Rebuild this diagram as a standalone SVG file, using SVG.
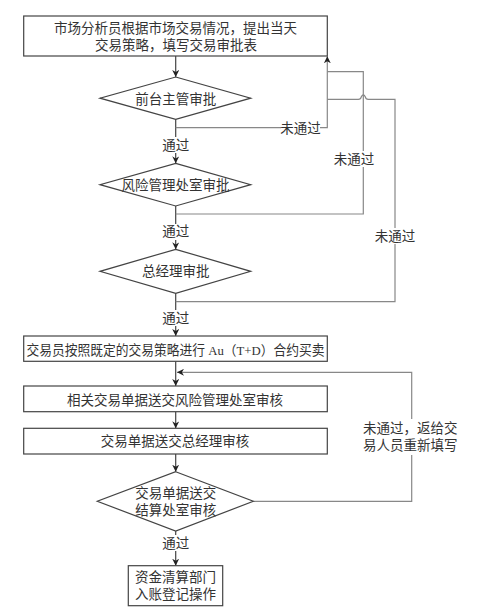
<svg xmlns="http://www.w3.org/2000/svg" width="496" height="611" viewBox="0 0 496 611">
<style>
.box{fill:#fff;stroke:#444;stroke-width:1.2}
.t{font-family:"Liberation Serif","Noto Sans CJK SC",serif;font-size:13.5px;fill:#333;dominant-baseline:central;text-anchor:middle}
.ls{text-anchor:start}
.m{fill:none;stroke:#444;stroke-width:1.2}
.g{fill:none;stroke:#888;stroke-width:1.2}
.bg{fill:#fff;stroke:none}
</style>
<defs>
<marker id="ah" viewBox="0 0 10 10" refX="10" refY="5" markerWidth="7" markerHeight="7" orient="auto" markerUnits="userSpaceOnUse">
<path d="M0,0 L10,5 L0,10 L3,5 z" fill="#222"/>
</marker>
</defs>
<rect width="496" height="611" fill="#fff"/>
<g id="connectors">
<line class="m" x1="175.7" y1="56" x2="175.7" y2="77" marker-end="url(#ah)"/>
<line class="m" x1="175.7" y1="119.3" x2="175.7" y2="163.3" marker-end="url(#ah)"/>
<line class="m" x1="175.7" y1="206" x2="175.7" y2="249.3" marker-end="url(#ah)"/>
<line class="m" x1="175.7" y1="293.3" x2="175.7" y2="336" marker-end="url(#ah)"/>
<line class="m" x1="175.7" y1="361.3" x2="175.7" y2="386" marker-end="url(#ah)"/>
<line class="m" x1="175.7" y1="411.7" x2="175.7" y2="428.3" marker-end="url(#ah)"/>
<line class="m" x1="175.7" y1="454" x2="175.7" y2="471.7" marker-end="url(#ah)"/>
<line class="m" x1="175.7" y1="531" x2="175.7" y2="565.7" marker-end="url(#ah)"/>
<polyline class="g" points="175.7,127.7 327.3,127.7 327.3,56.3" marker-end="url(#ah)"/>
<polyline class="g" points="175.7,214 363.3,214 363.3,71.7 327.3,71.7"/>
<path class="g" d="M175.7,301.7 L395,301.7 L395,99.3 L368.3,99.3 Q365.8,99.3 365.3,96.8 Q363.3,92.8 361.3,96.8 Q360.8,99.3 358.3,99.3 L327.3,99.3"/>
<polyline class="g" points="253.3,501.3 411.7,501.3 411.7,372.3 177,372.3" marker-end="url(#ah)"/>
<rect class="bg" x="281" y="120" width="39" height="16"/>
<text class="t" x="300.5" y="128">未通过</text>
<rect class="bg" x="334" y="151" width="40" height="16"/>
<text class="t" x="354" y="159">未通过</text>
<rect class="bg" x="375" y="228" width="40" height="16"/>
<text class="t" x="395" y="236">未通过</text>
<rect class="bg" x="362" y="419" width="99" height="36"/>
<text class="t ls" x="363" y="428.3">未通过，返给交</text>
<text class="t ls" x="363" y="445.7">易人员重新填写</text>
<rect class="bg" x="161" y="137" width="29" height="16"/>
<text class="t" x="175.7" y="145">通过</text>
<rect class="bg" x="161" y="224" width="29" height="16"/>
<text class="t" x="175.7" y="231.7">通过</text>
<rect class="bg" x="161" y="310" width="29" height="16"/>
<text class="t" x="175.7" y="318.3">通过</text>
<rect class="bg" x="161" y="535" width="29" height="16"/>
<text class="t" x="175.7" y="543.3">通过</text>
</g>
<g id="n1">
<rect class="box" x="23.7" y="16" width="303.6" height="40"/>
<text class="t" x="175.5" y="28">市场分析员根据市场交易情况，提出当天</text>
<text class="t" x="176" y="45">交易策略，填写交易审批表</text>
</g>
<g id="d1">
<polygon class="box" points="175.7,77 250.7,98.2 175.7,119.3 100,98.2"/>
<text class="t" x="175.7" y="99">前台主管审批</text>
</g>
<g id="d2">
<polygon class="box" points="175.7,163.3 250.7,184.7 175.7,206 100,184.7"/>
<text class="t" x="175.4" y="185">风险管理处室审批</text>
</g>
<g id="d3">
<polygon class="box" points="175.7,249.3 250.7,271.3 175.7,293.3 100,271.3"/>
<text class="t" x="175.7" y="271.7">总经理审批</text>
</g>
<g id="n2">
<rect class="box" x="23.7" y="336" width="303.6" height="25.3"/>
<text class="t" x="175.5" y="350.7" textLength="298" lengthAdjust="spacingAndGlyphs">交易员按照既定的交易策略进行 Au（T+D）合约买卖</text>
</g>
<g id="n3">
<rect class="box" x="23.7" y="386" width="303.6" height="25.7"/>
<text class="t" x="175" y="400">相关交易单据送交风险管理处室审核</text>
</g>
<g id="n4">
<rect class="box" x="23.7" y="428.3" width="303.6" height="25.7"/>
<text class="t" x="175" y="441.7">交易单据送交总经理审核</text>
</g>
<g id="d4">
<polygon class="box" points="175.7,471.7 253.3,501.3 175.7,531 97.3,501.3"/>
<text class="t" x="175.7" y="493.3">交易单据送交</text>
<text class="t" x="175.7" y="510.7">结算处室审核</text>
</g>
<g id="n5">
<rect class="box" x="128.3" y="565.7" width="94.4" height="40"/>
<text class="t" x="175.5" y="577.3">资金清算部门</text>
<text class="t" x="175.5" y="594">入账登记操作</text>
</g>
</svg>
